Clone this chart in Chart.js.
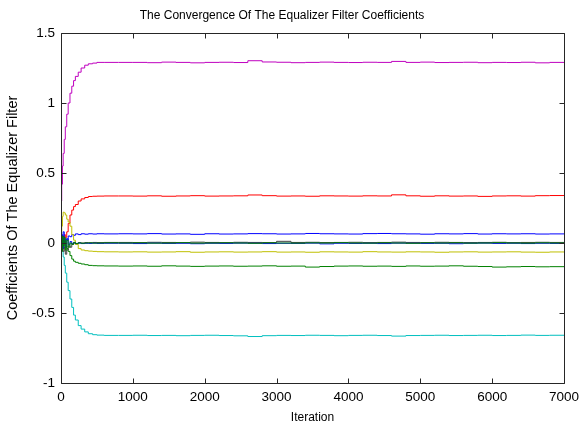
<!DOCTYPE html>
<html>
<head>
<meta charset="utf-8">
<script src="https://cdn.jsdelivr.net/npm/chart.js@4/dist/chart.umd.min.js"></script>
<style>
  html, body { margin: 0; padding: 0; background: #ffffff; }
  #wrap { width: 579px; height: 430px; }
</style>
</head>
<body>
<div id="wrap"><canvas id="c" width="579" height="430"></canvas></div>
<script>
// Iteration numbers at which the adaptive equalizer taps were sampled
const iterations = [0, 10, 20, 30, 45, 60, 80, 100, 125, 150, 175, 200, 240, 280, 330, 380, 440, 500, 600,
  800, 1000, 1200, 1400, 1600, 1800, 2000, 2200, 2400, 2600, 2800, 3000, 3200, 3400, 3600, 3800,
  4000, 4200, 4400, 4600, 4800, 5000, 5200, 5400, 5600, 5800, 6000, 6200, 6400, 6600, 6800, 7000];

// Tap weights of the equalizer filter over the iterations
const tap1 = [0.0, 0.04, -0.02, 0.05, 0.0, 0.03, 0.02, 0.05, 0.045, 0.06, 0.055, 0.065, 0.06, 0.066, 0.063, 0.066, 0.064, 0.066, 0.065,
  0.066, 0.065, 0.067, 0.064, 0.065, 0.062, 0.066, 0.064, 0.065, 0.067, 0.066, 0.064, 0.065, 0.068, 0.066, 0.065,
  0.064, 0.067, 0.068, 0.066, 0.065, 0.063, 0.066, 0.065, 0.067, 0.064, 0.066, 0.065, 0.066, 0.064, 0.065, 0.066];
const tap2 = [0.0, -0.03, 0.02, -0.04, 0.01, -0.02, -0.04, -0.06, -0.09, -0.115, -0.13, -0.138, -0.145, -0.15, -0.155, -0.16, -0.162, -0.163, -0.164,
  -0.165, -0.164, -0.166, -0.163, -0.165, -0.167, -0.165, -0.164, -0.166, -0.165, -0.163, -0.166, -0.165, -0.172, -0.168, -0.165,
  -0.164, -0.166, -0.165, -0.167, -0.164, -0.166, -0.165, -0.163, -0.166, -0.168, -0.172, -0.17, -0.168, -0.17, -0.169, -0.17];
const tap3 = [0.0, 0.03, 0.05, 0.02, 0.06, 0.04, 0.08, 0.14, 0.2, 0.235, 0.26, 0.275, 0.3, 0.315, 0.325, 0.332, 0.334, 0.335, 0.336,
  0.336, 0.335, 0.337, 0.334, 0.336, 0.338, 0.335, 0.336, 0.337, 0.343, 0.338, 0.335, 0.336, 0.334, 0.337, 0.336,
  0.335, 0.337, 0.336, 0.344, 0.337, 0.334, 0.337, 0.335, 0.336, 0.333, 0.336, 0.337, 0.335, 0.338, 0.339, 0.337];
const tap4 = [0.0, -0.02, -0.06, -0.1, -0.16, -0.215, -0.28, -0.34, -0.4, -0.46, -0.515, -0.55, -0.59, -0.615, -0.635, -0.648, -0.655, -0.658, -0.66,
  -0.66, -0.659, -0.661, -0.66, -0.662, -0.66, -0.659, -0.661, -0.663, -0.668, -0.662, -0.66, -0.661, -0.659, -0.66, -0.662,
  -0.66, -0.659, -0.661, -0.665, -0.661, -0.66, -0.659, -0.661, -0.66, -0.659, -0.661, -0.66, -0.658, -0.66, -0.659, -0.66];
const tap5 = [0.3, 0.42, 0.55, 0.64, 0.74, 0.83, 0.92, 1.0, 1.07, 1.12, 1.16, 1.19, 1.22, 1.25, 1.27, 1.28, 1.285, 1.29, 1.29,
  1.29, 1.29, 1.288, 1.292, 1.29, 1.287, 1.29, 1.291, 1.289, 1.302, 1.293, 1.291, 1.288, 1.29, 1.292, 1.29,
  1.289, 1.291, 1.29, 1.297, 1.29, 1.292, 1.289, 1.29, 1.291, 1.288, 1.29, 1.289, 1.291, 1.287, 1.29, 1.288];
const tap6 = [0.0, 0.12, 0.19, 0.22, 0.215, 0.2, 0.17, 0.15, 0.12, 0.06, 0.02, -0.01, -0.04, -0.05, -0.055, -0.058, -0.06, -0.062, -0.063,
  -0.064, -0.063, -0.065, -0.064, -0.062, -0.066, -0.064, -0.063, -0.065, -0.064, -0.062, -0.065, -0.064, -0.066, -0.063, -0.064,
  -0.065, -0.062, -0.064, -0.065, -0.063, -0.064, -0.066, -0.064, -0.063, -0.065, -0.064, -0.063, -0.065, -0.066, -0.064, -0.065];
const tap7 = [0.0, -0.05, 0.03, -0.06, -0.03, -0.08, -0.05, -0.02, -0.03, -0.01, 0.0, -0.005, 0.002, 0.0, 0.003, 0.002, 0.004, 0.003, 0.004,
  0.004, 0.003, 0.005, 0.004, 0.003, 0.006, 0.004, 0.003, 0.005, 0.004, 0.003, 0.012, 0.004, 0.005, 0.003, 0.004,
  0.005, 0.003, 0.004, 0.006, 0.004, 0.003, 0.005, 0.004, 0.003, 0.004, 0.005, 0.003, 0.004, 0.005, 0.004, 0.003];
const tap8 = [0.0, 0.06, -0.04, 0.08, 0.02, -0.03, 0.03, -0.01, 0.01, -0.005, 0.002, -0.003, 0.0, -0.004, -0.002, -0.003, -0.001, -0.003, -0.002,
  -0.002, -0.004, -0.001, -0.003, -0.002, -0.005, -0.002, -0.003, -0.001, -0.002, -0.004, -0.002, -0.003, -0.001, -0.006, -0.002,
  -0.003, -0.002, -0.004, -0.001, -0.002, -0.003, -0.002, -0.005, -0.002, -0.001, -0.003, -0.002, -0.004, -0.002, -0.003, -0.002];
const tap9 = [0.0, -0.06, 0.05, -0.02, 0.04, -0.05, 0.02, -0.03, 0.0, -0.01, 0.005, -0.004, 0.001, -0.002, 0.0, 0.001, -0.001, 0.0, 0.001,
  0.0, 0.001, -0.001, 0.0, 0.002, -0.001, 0.0, 0.001, 0.0, -0.002, 0.001, 0.0, -0.001, 0.001, 0.0, 0.002,
  0.0, -0.001, 0.001, 0.0, -0.002, 0.001, 0.0, 0.001, -0.001, 0.0, 0.002, 0.0, -0.001, 0.001, 0.0, 0.001];

const taps = [tap1, tap2, tap3, tap4, tap5, tap6, tap7, tap8, tap9];
const tapColors = ['#0000ff', '#008000', '#ff0000', '#00bfbf', '#bf00bf', '#bfbf00', '#404040', '#0000ff', '#008000'];

const xTicks = [0, 1000, 2000, 3000, 4000, 5000, 6000, 7000];
const yTicks = [-1, -0.5, 0, 0.5, 1, 1.5];

const sans = '"Liberation Sans", Arial, sans-serif';

const datasets = taps.map((vals, i) => ({
  label: 'w' + (i + 1),
  data: vals.map((v, j) => ({ x: iterations[j], y: v })),
  borderColor: tapColors[i],
  backgroundColor: tapColors[i],
  borderWidth: 1,
  pointRadius: 0,
  stepped: true,
  fill: false,
  order: taps.length - i
}));

// Box frame with inward tick marks on all four sides
const framePlugin = {
  id: 'frame',
  afterDatasetsDraw(chart) {
    const { ctx, chartArea: a, scales } = chart;
    const L = Math.round(a.left) + 0.5, R = Math.round(a.right) + 0.5;
    const T = Math.round(a.top) + 0.5, B = Math.round(a.bottom) + 0.5;
    ctx.save();
    ctx.strokeStyle = '#262626';
    ctx.lineWidth = 1;
    ctx.beginPath();
    ctx.rect(L, T, R - L, B - T);
    const len = 5;
    xTicks.forEach(v => {
      const px = Math.round(scales.x.getPixelForValue(v)) + 0.5;
      ctx.moveTo(px, B); ctx.lineTo(px, B - len);
      ctx.moveTo(px, T); ctx.lineTo(px, T + len);
    });
    yTicks.forEach(v => {
      const py = Math.round(scales.y.getPixelForValue(v)) + 0.5;
      ctx.moveTo(L, py); ctx.lineTo(L + len, py);
      ctx.moveTo(R, py); ctx.lineTo(R - len, py);
    });
    ctx.stroke();
    ctx.restore();
  }
};

new Chart(document.getElementById('c'), {
  type: 'line',
  data: { datasets },
  plugins: [framePlugin],
  options: {
    responsive: false,
    animation: false,
    events: [],
    layout: { padding: { left: 0, right: 15, top: 0, bottom: 0 } },
    plugins: {
      legend: { display: false },
      tooltip: { enabled: false },
      title: {
        display: true,
        text: 'The Convergence Of The Equalizer Filter Coefficients',
        color: '#000000',
        font: { family: sans, size: 12, weight: 'normal', lineHeight: 1.2 },
        padding: { top: 8, bottom: 10.6 }
      }
    },
    scales: {
      x: {
        type: 'linear',
        min: 0,
        max: 7000,
        afterBuildTicks(scale) { scale.ticks = xTicks.map(v => ({ value: v })); },
        afterFit(scale) { scale.height = 47; scale.paddingRight = 0; },
        grid: { display: false, drawTicks: false },
        border: { display: false },
        ticks: {
          color: '#000000',
          font: { family: sans, size: 13.5 },
          padding: 6,
          maxRotation: 0,
          callback: v => String(v)
        },
        title: {
          display: true,
          text: 'Iteration',
          color: '#000000',
          font: { family: sans, size: 12 },
          padding: { top: 0, bottom: 5 }
        }
      },
      y: {
        type: 'linear',
        min: -1,
        max: 1.5,
        afterBuildTicks(scale) { scale.ticks = yTicks.map(v => ({ value: v })); },
        afterFit(scale) { scale.width = 61; },
        grid: { display: false, drawTicks: false },
        border: { display: false },
        ticks: {
          color: '#000000',
          font: { family: sans, size: 13.5 },
          padding: 6,
          callback: v => String(v)
        },
        title: {
          display: true,
          text: 'Coefficients Of The Equalizer Filter',
          color: '#000000',
          font: { family: sans, size: 14.5 },
          padding: { top: 4, bottom: 0 }
        }
      }
    }
  }
});
</script>
</body>
</html>
